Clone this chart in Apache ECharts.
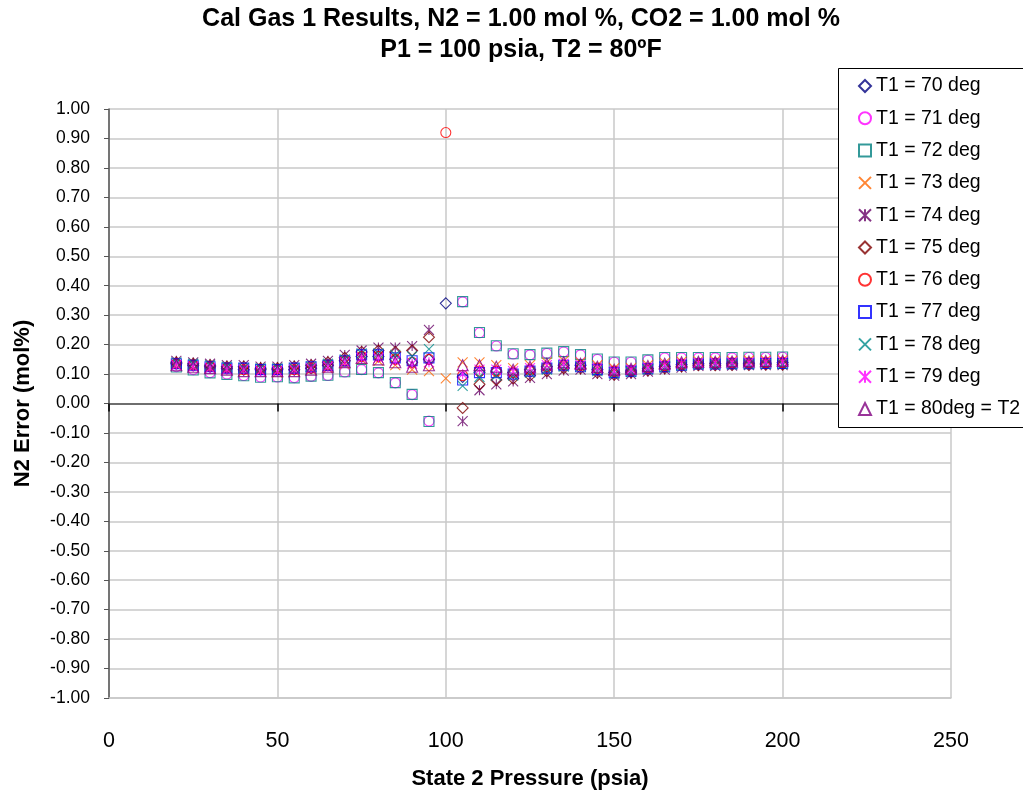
<!DOCTYPE html>
<html><head><meta charset="utf-8">
<script src="https://cdn.jsdelivr.net/npm/echarts@6/dist/echarts.min.js"></script>
<style>html,body{margin:0;padding:0;background:#fff}#c{width:1023px;height:792px}</style>
</head><body><div id="c"></div>
<script>
// State 2 pressure (psia)
const pressures = [20,25,30,35,40,45,50,55,60,65,70,75,80,85,90,95,100,105,110,115,120,125,130,135,140,145,150,155,160,165,170,175,180,185,190,195,200];

const t70 = [0.135,0.13,0.125,0.12,0.115,0.115,0.115,0.115,0.12,0.13,0.145,0.16,0.16,0.15,0.14,0.15, 0.34, 0.09,0.105,0.11,0.105,0.115,0.125,0.13,0.13,0.115,0.105,0.11,0.118,0.126,0.132,0.135,0.136,0.136,0.137,0.137,0.138];
const t71 = [0.125,0.115,0.105,0.10,0.095,0.09,0.09,0.088,0.092,0.095,0.107,0.115,0.104,0.07,0.03,-0.06, null, 0.345,0.24,0.195,0.168,0.165,0.17,0.175,0.165,0.15,0.14,0.14,0.147,0.155,0.155,0.155,0.155,0.155,0.156,0.156,0.157];
const t72 = [0.124,0.114,0.104,0.099,0.094,0.089,0.091,0.087,0.093,0.096,0.108,0.116,0.105,0.071,0.031,-0.061, null, 0.346,0.241,0.196,0.169,0.166,0.171,0.176,0.166,0.151,0.141,0.141,0.148,0.156,0.156,0.156,0.156,0.156,0.157,0.157,0.158];
const t73 = [0.13,0.125,0.12,0.115,0.11,0.11,0.105,0.11,0.115,0.12,0.135,0.15,0.145,0.13,0.115,0.11, 0.085, 0.14,0.14,0.13,0.12,0.13,0.14,0.145,0.14,0.13,0.12,0.12,0.13,0.138,0.142,0.144,0.145,0.145,0.146,0.146,0.147];
const t74 = [0.145,0.14,0.135,0.13,0.13,0.125,0.125,0.13,0.135,0.145,0.165,0.18,0.19,0.19,0.195,0.25, null, -0.06,0.045,0.065,0.075,0.087,0.10,0.112,0.115,0.10,0.095,0.10,0.108,0.115,0.122,0.128,0.128,0.129,0.13,0.13,0.13];
const t75 = [0.14,0.135,0.13,0.125,0.125,0.12,0.12,0.125,0.13,0.14,0.155,0.175,0.18,0.175,0.18,0.225, null, -0.015,0.065,0.08,0.085,0.095,0.11,0.12,0.12,0.105,0.098,0.105,0.112,0.12,0.126,0.13,0.13,0.131,0.131,0.132,0.132];
const t76 = [0.135,0.13,0.125,0.12,0.115,0.115,0.115,0.115,0.12,0.13,0.145,0.16,0.16,0.15,0.14,0.15, 0.92, 0.095,0.11,0.11,0.105,0.115,0.125,0.13,0.13,0.12,0.11,0.112,0.12,0.128,0.134,0.136,0.137,0.138,0.138,0.139,0.14];
const t77 = [0.135,0.13,0.125,0.12,0.12,0.115,0.115,0.12,0.125,0.13,0.145,0.165,0.165,0.155,0.145,0.155, null, 0.08,0.105,0.105,0.10,0.11,0.12,0.13,0.125,0.115,0.105,0.11,0.118,0.125,0.13,0.134,0.134,0.135,0.135,0.136,0.136];
const t78 = [0.14,0.135,0.13,0.125,0.12,0.12,0.12,0.12,0.125,0.135,0.15,0.17,0.17,0.165,0.16,0.185, null, 0.06,0.09,0.095,0.095,0.105,0.115,0.125,0.125,0.11,0.10,0.107,0.115,0.122,0.128,0.132,0.132,0.133,0.133,0.134,0.134];
const t79 = [0.13,0.125,0.12,0.115,0.115,0.11,0.11,0.115,0.12,0.125,0.14,0.155,0.155,0.145,0.135,0.14, null, 0.10,0.115,0.115,0.11,0.12,0.13,0.135,0.13,0.12,0.11,0.115,0.122,0.13,0.136,0.138,0.139,0.14,0.14,0.141,0.142];
const t80 = [0.13,0.125,0.12,0.115,0.11,0.11,0.11,0.11,0.115,0.125,0.14,0.155,0.15,0.14,0.125,0.13, null, 0.13,0.13,0.125,0.115,0.125,0.135,0.14,0.135,0.125,0.115,0.118,0.127,0.135,0.14,0.142,0.142,0.143,0.143,0.144,0.145];

const seriesNames = ['T1 = 70 deg','T1 = 71 deg','T1 = 72 deg','T1 = 73 deg','T1 = 74 deg','T1 = 75 deg','T1 = 76 deg','T1 = 77 deg','T1 = 78 deg','T1 = 79 deg','T1 = 80deg = T2'];
const seriesValues = [t70,t71,t72,t73,t74,t75,t76,t77,t78,t79,t80];
const xTicks = [0,50,100,150,200,250];

const X_PATH = 'path://M0,0L10,10M10,0L0,10';
const STAR_PATH = 'path://M0,0L10,10M10,0L0,10M5,0L5,10';
const styles = [
  {c:'#000080', s:'diamond', z:11},
  {c:'#FF00FF', s:'circle', z:10},
  {c:'#008080', s:'rect', z:10},
  {c:'#FF6600', s:X_PATH, z:10},
  {c:'#660066', s:STAR_PATH, z:10},
  {c:'#800000', s:'diamond', z:11},
  {c:'#FF0000', s:'circle', z:10},
  {c:'#0000FF', s:'rect', z:10},
  {c:'#008B8B', s:X_PATH, z:10},
  {c:'#FF00FF', s:STAR_PATH, z:10},
  {c:'#800080', s:'triangle', z:11}
];

const series = seriesNames.map((name, k) => ({
  name: name,
  type: 'scatter',
  xAxisIndex: 0,
  symbol: styles[k].s,
  symbolSize: styles[k].z,
  itemStyle: {color: 'rgba(0,0,0,0)', borderColor: styles[k].c, borderWidth: 1.1},
  emphasis: {disabled: true},
  data: pressures.map((p, i) => seriesValues[k][i] === null ? null : [p, seriesValues[k][i]]).filter(d => d !== null)
}));

const FONT = 'Arial, "Liberation Sans", sans-serif';
const chart = echarts.init(document.getElementById('c'), null, {renderer: 'canvas'});
chart.setOption({
  animation: false,
  backgroundColor: '#fff',
  title: {
    text: 'Cal Gas 1 Results, N2 = 1.00 mol %, CO2 = 1.00 mol %\nP1 = 100 psia, T2 = 80ºF',
    left: 516, top: -1, textAlign: 'center',
    textStyle: {fontFamily: FONT, fontSize: 25, fontWeight: 'bold', color: '#000', lineHeight: 31}
  },
  grid: {left: 109, right: 72, top: 109, bottom: 94, containLabel: false, outerBoundsMode: 'none'},
  xAxis: [
    {
      type: 'value', min: 0, max: 250, interval: 50,
      axisLine: {onZero: true, lineStyle: {color: '#6e6e6e', width: 2}},
      axisTick: {show: true, inside: false, length: 8, lineStyle: {color: '#000', width: 1.5}},
      axisLabel: {show: false},
      splitLine: {show: true, lineStyle: {color: '#c8c8c8', width: 1.5}}
    },
    {
      type: 'value', min: 0, max: 250, interval: 50, position: 'bottom',
      axisLine: {show: true, onZero: false, lineStyle: {color: '#c8c8c8', width: 1.5}},
      axisTick: {show: false},
      splitLine: {show: false},
      axisLabel: {show: true, margin: 32, fontFamily: FONT, fontSize: 21.5, color: '#000',
        formatter: v => xTicks.includes(v) ? String(v) : ''},
      name: 'State 2 Pressure (psia)', nameLocation: 'middle', nameGap: 70,
      nameTextStyle: {fontFamily: FONT, fontSize: 22, fontWeight: 'bold', color: '#000'}
    }
  ],
  yAxis: {
    type: 'value', min: -1, max: 1, interval: 0.1,
    axisLine: {show: true, onZero: false, lineStyle: {color: '#555', width: 1.5}},
    axisTick: {show: true, length: 5, lineStyle: {color: '#555'}},
    axisLabel: {fontFamily: FONT, fontSize: 17.5, color: '#000', margin: 19, formatter: v => v.toFixed(2)},
    splitLine: {show: true, lineStyle: {color: '#c8c8c8', width: 1.5}},
    name: 'N2 Error (mol%)', nameLocation: 'middle', nameGap: 75, nameRotate: 90,
    nameTextStyle: {fontFamily: FONT, fontSize: 22, fontWeight: 'bold', color: '#000'}
  },
  graphic: [{
    type: 'rect', z: 3,
    shape: {x: 838.5, y: 68.5, width: 200, height: 359},
    style: {fill: '#fff', stroke: '#000', lineWidth: 1}
  }],
  legend: {
    orient: 'vertical', left: 858, top: 75, padding: 0,
    itemWidth: 12, itemHeight: 12, itemGap: 10.3, itemTextGap: 5,
    textStyle: {fontFamily: FONT, fontSize: 19.5, color: '#000', lineHeight: 22},
    data: seriesNames
  },
  series: series
});
</script>
</body></html>
